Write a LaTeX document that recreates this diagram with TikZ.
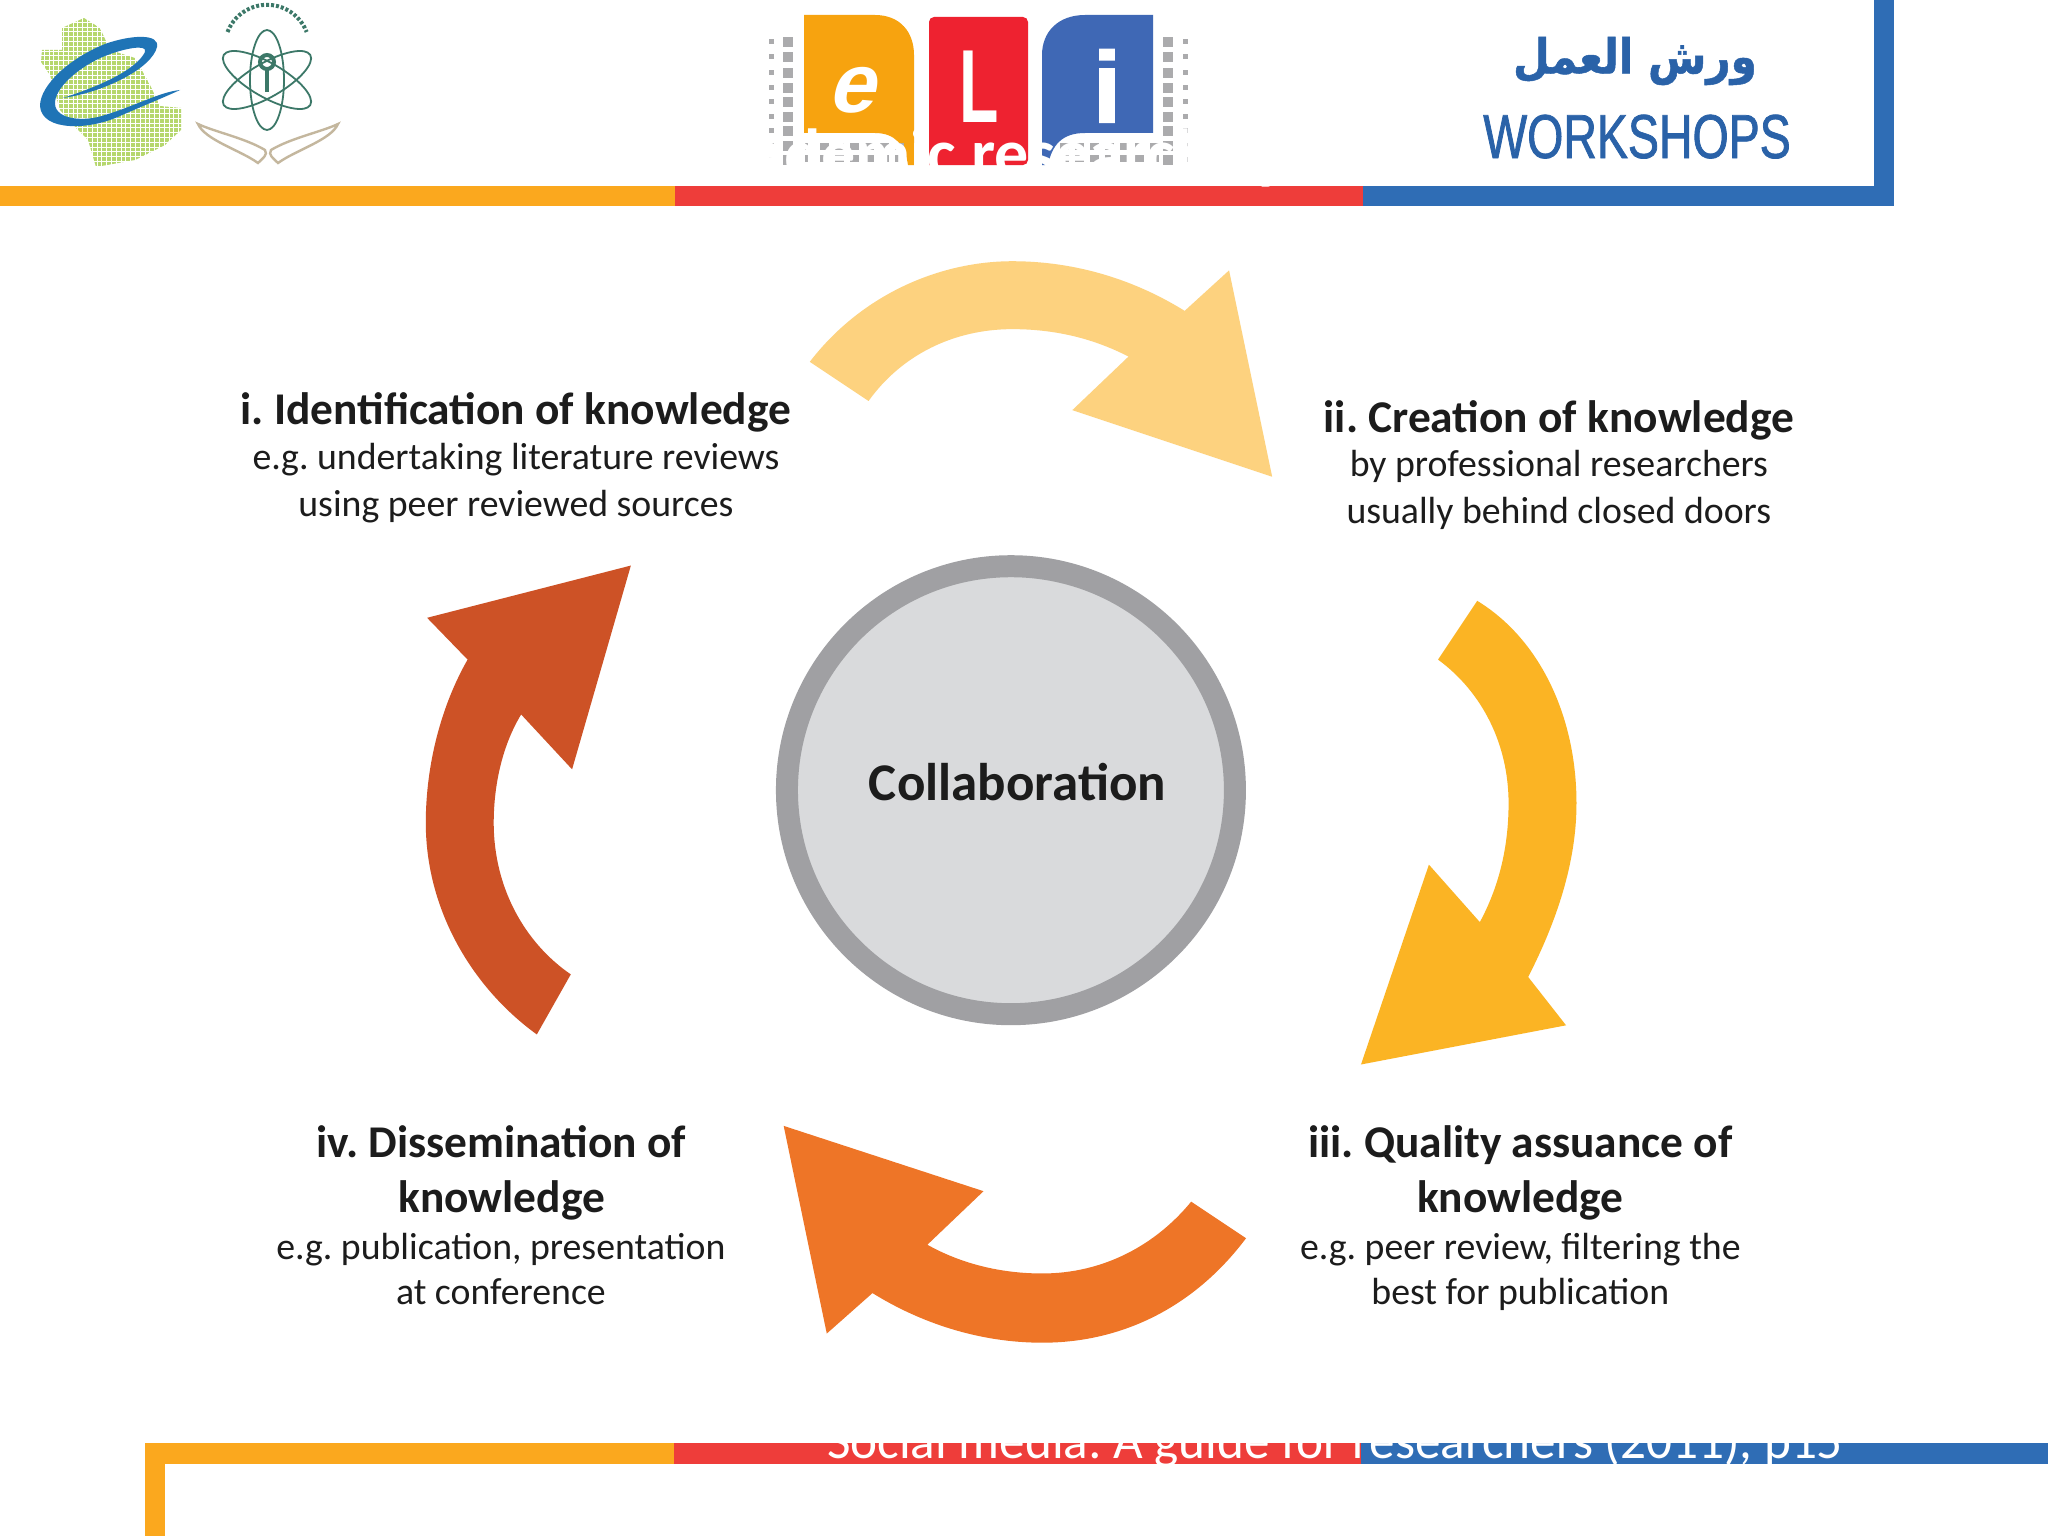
\documentclass[tikz,border=0pt]{standalone}
\usepackage{fontspec}
\setmainfont{Carlito}
\TeXXeTstate=1
\newfontfamily\arabicfont[Script=Arabic,FakeStretch=0.88,BoldFeatures={FakeBold=1}]{DejaVu Sans}
\newfontfamily\narrowfont[FakeStretch=0.75,FakeBold=1.2]{Liberation Sans}
\newfontfamily\slimfont[FakeStretch=0.62]{Liberation Sans}
\newfontfamily\logofont[BoldFeatures={FakeBold=2}]{Liberation Sans}
\newfontfamily\slantfont[BoldFeatures={FakeSlant=0.25}]{Liberation Sans}
\definecolor{barorange}{HTML}{FBA81E}
\definecolor{barred}{HTML}{EE3D3A}
\definecolor{barblue}{HTML}{2F6DB5}
\definecolor{aone}{HTML}{FDD27F}
\definecolor{atwo}{HTML}{FBB424}
\definecolor{athree}{HTML}{EE7527}
\definecolor{afour}{HTML}{CD5226}
\definecolor{ringgrey}{HTML}{A0A0A3}
\definecolor{discgrey}{HTML}{D9DADC}
\definecolor{inktext}{HTML}{1C1C1C}
\definecolor{logored}{HTML}{EE2230}
\definecolor{logoorange}{HTML}{F7A30F}
\definecolor{logoblue}{HTML}{3F68B5}
\definecolor{dotgrey}{HTML}{ABABAD}
\definecolor{mapgreen}{HTML}{B6D76E}
\definecolor{swoosh}{HTML}{1F74B6}
\definecolor{atomgreen}{HTML}{3C7868}
\definecolor{handtan}{HTML}{C4B79E}
\definecolor{wsblue}{HTML}{2A62A8}
\tikzset{
  headline/.style={anchor=base,inner sep=0pt,text=inktext,font=\fontsize{45.4}{45.4}\selectfont\bfseries},
  bodyline/.style={anchor=base,inner sep=0pt,text=inktext,font=\fontsize{37.8}{37.8}\selectfont},
  cyclearrow/.style={draw=none},
  orbit/.style={draw=atomgreen,line width=1.8pt,fill=none},
  hand/.style={draw=handtan,line width=2.4pt,fill=white},
}
\begin{document}
\frenchspacing
\begin{tikzpicture}[x=1pt,y=-1pt]
\useasboundingbox (0,0) rectangle (2048,1536);
\fill[white] (0,0) rectangle (2048,1536);

% --- map logo
\begin{scope}
\clip (84,18) -- (100,28) -- (110,50) -- (135,58) -- (150,85) -- (160,106) -- (181,108) -- (181,130) -- (165,145) -- (135,160) -- (96,167) -- (88,140) -- (78,130) -- (60,110) -- (50,75) -- (41,62) -- (42,50) -- (62,50) -- (62,28) -- cycle;
\foreach \i in {0,...,30} \foreach \j in {0,...,32}
  \fill[mapgreen] ({40+\i*4.8},{18+\j*4.8}) rectangle +(3.8,3.8);
\end{scope}
\fill[swoosh] (180,90) .. controls (165,97) and (145,105) .. (120,116) .. controls (90,130) and (42,132) .. (40,106)
  .. controls (40,85) and (70,58) .. (105,44) .. controls (130,35) and (160,33) .. (157,47)
  .. controls (152,68) and (105,92) .. (63,98) .. controls (100,86) and (136,70) .. (145,52)
  .. controls (148,44) and (125,48) .. (105,56) .. controls (80,66) and (54,88) .. (55,104)
  .. controls (56,120) and (85,122) .. (105,115) .. controls (135,106) and (160,92) .. (180,90) -- cycle;

% --- atom logo
\begin{scope}[shift={(267,80)}]
\draw[orbit] (0,0) ellipse [x radius=17,y radius=50];
\draw[orbit,rotate=60] (0,0) ellipse [x radius=17,y radius=50];
\draw[orbit,rotate=-60] (0,0) ellipse [x radius=17,y radius=50];
\draw[draw=atomgreen,line width=4pt] (0,-18) circle (7);
\draw[draw=atomgreen,line width=4pt] (0,-11) -- (0,12);
\draw[draw=atomgreen,line width=4pt,dash pattern=on 3pt off 2pt] (-39.5,-48) arc[start angle=201,end angle=339,radius=42.4];
\end{scope}
\draw[hand] (198,124) .. controls (205,140) and (240,150) .. (258,163) .. controls (263,158) and (268,155) .. (265,150) .. controls (245,138) and (215,132) .. (198,124) -- cycle;
\draw[hand] (338,124) .. controls (331,140) and (296,150) .. (278,163) .. controls (273,158) and (268,155) .. (271,150) .. controls (291,138) and (321,132) .. (338,124) -- cycle;

% --- eLi logo
\foreach \yy in {42,57,73,88,102,117,131,146,160} {
  \fill[dotgrey] (783,\yy-5) rectangle +(10,10);
  \fill[dotgrey] (769,\yy-3) rectangle +(5,5);
  \fill[dotgrey] (1163,\yy-5) rectangle +(10,10);
  \fill[dotgrey] (1183,\yy-3) rectangle +(5,5);
}
\fill[logoorange] (804,15) -- (875,15) .. controls (900,15) and (914,32) .. (914,55) -- (914,165) -- (908,165) .. controls (905,145) and (895,133) .. (875,133) -- (804,133) -- cycle;
\fill[logored,rounded corners=5pt] (929,17) -- (1028,17) -- (1028,165) [sharp corners] -- (929,165) [rounded corners=5pt] -- cycle;
\fill[logoblue] (1153,15) -- (1085,15) .. controls (1058,15) and (1042,32) .. (1042,55) -- (1042,165) -- (1048,165) .. controls (1052,145) and (1062,133) .. (1085,133) -- (1153,133) -- cycle;
\foreach \xx in {805,820,835,850,865,880,895} {
  \fill[dotgrey] (\xx,143) rectangle +(9,7);
  \fill[dotgrey] (\xx,155) rectangle +(9,7);
}
\foreach \xx in {1060,1075,1090,1105,1120,1135,1150} {
  \fill[dotgrey] (\xx,143) rectangle +(9,7);
  \fill[dotgrey] (\xx,155) rectangle +(9,7);
}
\node[anchor=base,inner sep=0pt,text=white,font=\slantfont\fontsize{84}{84}\selectfont\bfseries] (logoe) at (851,113) {e};
\node[anchor=base,inner sep=0pt,text=white,font=\slimfont\fontsize{104}{104}\selectfont\bfseries] (logol) at (979,123) {L};
\node[anchor=base,inner sep=0pt,text=white,font=\logofont\fontsize{100}{100}\selectfont\bfseries] (logoi) at (1107,122) {i};

% --- workshops logo
\node[inner sep=0pt,text=wsblue,font=\arabicfont\fontsize{48}{48}\selectfont\bfseries] (wsar) at (1635,61) {\beginR ورش العمل\endR};
\node[anchor=base,inner sep=0pt,text=wsblue,font=\narrowfont\fontsize{62}{62}\selectfont] (wsen) at (1637,158) {WORKSHOPS};

% --- top rule
\fill[barorange] (0,186) rectangle (675,206);
\fill[barred] (675,186) rectangle (1363,206);
\fill[barblue] (1363,186) rectangle (1894,206);
\fill[barblue] (1874,0) rectangle (1894,206);

% --- title (white, seen only where it crosses the logo and the bar)
\node[anchor=base,inner sep=0pt,text=white,font=\fontsize{68}{68}\selectfont\bfseries] (title) at (1024,176) {Academic research cycle};

% --- bottom rule
\fill[barorange] (145,1443) rectangle (674,1464);
\fill[barred] (674,1443) rectangle (1361,1464);
\fill[barblue] (1361,1443) rectangle (2048,1464);
\fill[barorange] (145,1443) rectangle (165,1536);
\node[anchor=base,inner sep=0pt,text=white,font=\fontsize{51.2}{51.2}\selectfont] (source) at (1335,1458) {Social media: A guide for researchers (2011), p15};

% --- diagram, in the coordinates of the 1568 x 1176 view
\begin{scope}[x=1.30612pt,y=-1.30612pt]
\fill[aone,cyclearrow] (620,277) .. controls (660,225) and (720,200) .. (775,200) .. controls (825,200) and (870,215) .. (907,238)
  -- (941,207) -- (974,365) -- (821,314) -- (864,273)
  .. controls (835,258) and (805,252) .. (775,252) .. controls (730,252) and (690,272) .. (665,307) -- cycle;
\fill[atwo,cyclearrow] (1131,460) .. controls (1180,490) and (1207,550) .. (1207,615) .. controls (1207,660) and (1192,705) .. (1170,748)
  -- (1199,785) -- (1042,815) -- (1094,662) -- (1133,706)
  .. controls (1147,680) and (1155,650) .. (1155,615) .. controls (1155,570) and (1135,530) .. (1101,505) -- cycle;
\fill[athree,cyclearrow] (954,948) .. controls (915,1000) and (860,1028) .. (798,1028) .. controls (750,1028) and (705,1013) .. (668,990)
  -- (633,1021) -- (600,862) -- (753,912) -- (710,953)
  .. controls (735,967) and (765,975) .. (798,975) .. controls (845,975) and (885,953) .. (912,920) -- cycle;
\fill[afour,cyclearrow] (411,792) .. controls (360,755) and (326,695) .. (326,630) .. controls (326,585) and (338,540) .. (358,505)
  -- (327,473) -- (483,433) -- (438,589) -- (399,547)
  .. controls (385,570) and (378,600) .. (378,630) .. controls (378,680) and (402,722) .. (437,746) -- cycle;

\node[circle,minimum size=343*1.30612pt,inner sep=0pt,fill=discgrey,draw=ringgrey,line width=22pt] (hub) at (774,605) {};
\node[anchor=base,inner sep=0pt,text=inktext,font=\fontsize{53}{53}\selectfont\bfseries] (hublabel) at (779,613) {Collaboration};

\node[headline] (ih) at (395,325) {i. Identification of knowledge};
\node[bodyline] (ia) at (395,359.5) {e.g. undertaking literature reviews};
\node[bodyline] (ib) at (395,395.5) {using peer reviewed sources};

\node[headline] (iih) at (1193.5,331) {ii. Creation of knowledge};
\node[bodyline] (iia) at (1193.5,365) {by professional researchers};
\node[bodyline] (iib) at (1193.5,401) {usually behind closed doors};

\node[headline] (iiih) at (1164,886.5) {iii. Quality assuance of};
\node[headline] (iiihb) at (1164,928.5) {knowledge};
\node[bodyline] (iiia) at (1164,964.5) {e.g. peer review, filtering the};
\node[bodyline] (iiib) at (1164,998.5) {best for publication};

\node[headline] (ivh) at (384,886.5) {iv. Dissemination of};
\node[headline] (ivhb) at (384,928.5) {knowledge};
\node[bodyline] (iva) at (383.5,964.5) {e.g. publication, presentation};
\node[bodyline] (ivb) at (383.5,998.5) {at conference};
\end{scope}
\end{tikzpicture}
\end{document}
